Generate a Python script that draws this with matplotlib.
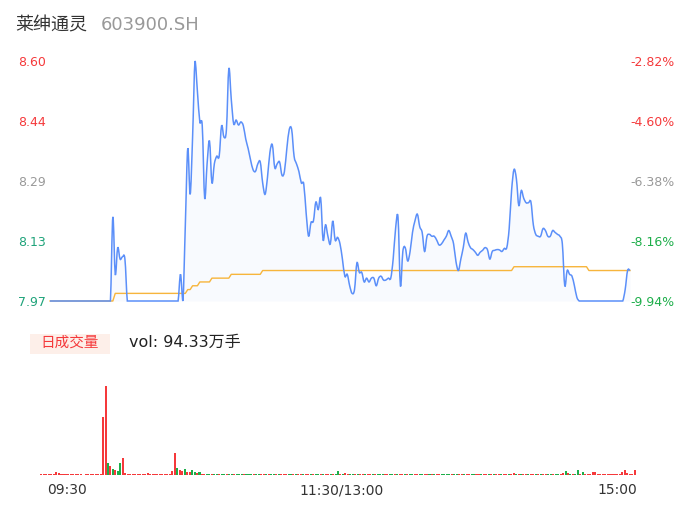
import numpy as np
import matplotlib
matplotlib.use('Agg')
import matplotlib.pyplot as plt
from matplotlib.patches import Rectangle, PathPatch
from matplotlib.path import Path

plt.rcParams['font.family'] = ['DejaVu Sans', 'Noto Sans CJK SC']

# -----------------------------
# 数据
# -----------------------------
stock_name = '莱绅通灵'
stock_code = '603900.SH'
vol_text = 'vol: 94.33万手'
time_labels = ['09:30', '11:30/13:00', '15:00']

price_labels = ['7.97', '8.13', '8.29', '8.44', '8.60']
pct_labels = ['-9.94%', '-8.16%', '-6.38%', '-4.60%', '-2.82%']

# 分时价格 (241 minutes)
price = ([7.97] * 26
         + [8.19, 8.04, 8.11, 8.08, 8.086, 8.08, 7.97]
         + [7.97] * 21
         + [8.04, 7.97, 8.17, 8.37, 8.25, 8.40, 8.60, 8.52, 8.44, 8.43,
            8.24, 8.33, 8.39, 8.28, 8.33, 8.35, 8.35, 8.43, 8.40, 8.42,
            8.58, 8.50, 8.435, 8.445, 8.432, 8.44, 8.43, 8.395, 8.37, 8.34,
            8.315, 8.31, 8.33, 8.335, 8.28, 8.25, 8.295, 8.36, 8.38, 8.32,
            8.33, 8.335, 8.30, 8.31, 8.37, 8.42, 8.42, 8.35, 8.33, 8.31,
            8.28, 8.277, 8.20, 8.14, 8.176, 8.18, 8.23, 8.21, 8.24, 8.13,
            8.17, 8.14, 8.12, 8.18, 8.13, 8.137, 8.12, 8.08, 8.035, 8.04,
            8.01, 7.99, 8.00, 8.07, 8.045, 8.045, 8.02, 8.03, 8.02, 8.03,
            8.03, 8.01, 8.03, 8.035, 8.025, 8.025, 8.03, 8.03, 8.08, 8.16,
            8.19, 8.01, 8.10, 8.11, 8.075, 8.10, 8.15, 8.18, 8.198, 8.165,
            8.15, 8.10, 8.14, 8.145, 8.14, 8.14, 8.13, 8.117, 8.12, 8.13,
            8.14, 8.155, 8.14, 8.12, 8.073, 8.05, 8.08, 8.11, 8.148, 8.125,
            8.11, 8.105, 8.098, 8.09, 8.098, 8.103, 8.11, 8.105, 8.08, 8.10,
            8.103, 8.105, 8.104, 8.10, 8.108, 8.11, 8.16, 8.26, 8.315, 8.29,
            8.22, 8.26, 8.24, 8.228, 8.228, 8.23, 8.17, 8.145, 8.14, 8.14,
            8.16, 8.155, 8.14, 8.14, 8.155, 8.15, 8.145, 8.14, 8.12, 8.01,
            8.05, 8.04, 8.035, 8.01, 7.98]
         + [7.97] * 19
         + [8.00, 8.05, 8.05])

# 均价线
avg_price = ([7.97] * 27 + [7.99] * 30 + [8.00] * 2 + [8.01] * 3 + [8.02] * 5
             + [8.03] * 8 + [8.04] * 13 + [8.05] * 104 + [8.06] * 31 + [8.05] * 18)

# 成交量 (手)
volume = [1300, 1200, 1100, 1300, 1000, 1200, 5200, 2900, 2800, 2600,
          1500, 1400, 1600, 1300, 1400, 1200, 1000, 900, 1000, 1100,
          1200, 1300, 1500, 1400, 1800, 110000, 170000, 23000, 17000, 11500,
          9500, 7600, 23000, 32500, 3800, 1500, 1300, 1200, 1400, 1100,
          1200, 1300, 1500, 3800, 2000, 1300, 1200, 1100, 1000, 1200,
          1300, 1500, 1800, 7600, 42000, 13300, 9500, 7600, 11500, 5700,
          5700, 9500, 5700, 3800, 5700, 2800, 2600, 2200, 2400, 2000,
          2200, 1900, 2100, 1800, 2000, 1700, 1800, 1600, 1500, 1700,
          1400, 1500, 1300, 1600, 1400, 1500, 1300, 1200, 1400, 1500,
          1300, 1400, 1200, 1500, 1300, 1200, 1400, 1300, 1100, 1500,
          1200, 1300, 1400, 1200, 1300, 1500, 1400, 1200, 1300, 1100,
          1400, 1300, 1200, 1500, 1300, 1400, 1200, 1300, 1500, 1400,
          7600, 2200, 1800, 3800, 1500, 1300, 1400, 1200, 1500, 2800,
          1300, 1200, 1400, 1300, 1500, 1200, 1300, 1400, 1500, 1200,
          1300, 1400, 1300, 1500, 1400, 1600, 1300, 1200, 1400, 1500,
          1300, 1400, 1200, 1300, 1500, 1400, 1300, 1200, 1400, 1300,
          1200, 1400, 1300, 1500, 1200, 1300, 1400, 1200, 1300, 1400,
          1200, 1300, 1400, 1200, 1300, 1200, 1400, 1300, 1200, 1300,
          1400, 1200, 1300, 1400, 1200, 1300, 1400, 1300, 1200, 1300,
          1400, 3800, 1300, 1200, 1400, 1300, 1200, 1300, 2800, 1300,
          1200, 1400, 1300, 1200, 1300, 1400, 1200, 1300, 1400, 1500,
          1300, 3800, 7600, 3800, 1500, 1300, 2000, 9500, 2000, 5700,
          1400, 1300, 1500, 5700, 5700, 1400, 1300, 1200, 1300, 1400,
          1300, 1200, 1400, 1300, 1500, 5700, 9500, 3800, 1200, 1300,
          9500]

# 1 = 上涨(红), 0 = 下跌(绿)
up_flags = ('1111111111111111111111111'
            '1101010011'
            '111111111111111111'
            '110110110010'
            '11001001001001000100'
            '01001101001011100101'
            '10110100101101001011'
            '00101101101000110010'
            '11010011001101011000'
            '01001101100110110101'
            '10110110101101101011'
            '00100110101001011')

RED = '#F5393B'
GREEN = '#1DAE4A'
GREEN_L = '#1FA37A'
GRAY = '#999999'


def smooth_path(xs, ys, ymin, ymax):
    """ Catmull-Rom 曲线转成三次贝塞尔路径 (只影响绘制), 控制点限制在数据范围内 """
    pts = np.column_stack([xs, ys]).astype(float)
    verts = [pts[0]]
    codes = [Path.MOVETO]
    n = len(pts)
    for k in range(n - 1):
        p0 = pts[max(k - 1, 0)]
        p1 = pts[k]
        p2 = pts[k + 1]
        p3 = pts[min(k + 2, n - 1)]
        c1 = p1 + (p2 - p0) / 6.0
        c2 = p2 - (p3 - p1) / 6.0
        c1[1] = min(max(c1[1], ymin), ymax)
        c2[1] = min(max(c2[1], ymin), ymax)
        verts += [c1, c2, p2]
        codes += [Path.CURVE4] * 3
    return Path(verts, codes)


x = np.arange(len(price))
low, high = min(price), max(price)

fig = plt.figure(figsize=(6.86, 5.24), dpi=100)
W, H = 686, 524

# -----------------------------
# 分时图
# -----------------------------
ax = fig.add_axes([50 / W, 1 - 301 / H, 580 / W, 240 / H])
ax.fill_between(x, price, low, color='#5B8FF9', alpha=0.04, lw=0)
line = PathPatch(smooth_path(x, price, low, high), facecolor='none', edgecolor='#5B8FF9',
                 lw=1.1, clip_on=False, zorder=3)
ax.add_patch(line)
ax.plot(x, avg_price, color='#F7B53C', lw=1.0, clip_on=False, zorder=2)
ax.set_xlim(0, len(price) - 1)
ax.set_ylim(low, high)
for s in ax.spines.values():
    s.set_visible(False)
ax.set_xticks([])

yticks = np.linspace(low, high, 5)
label_colors = [GREEN_L, GREEN_L, GRAY, RED, RED]
ax.set_yticks(yticks)
ax.set_yticklabels(price_labels, fontsize=9)
ax.tick_params(axis='y', length=0, pad=3)
for lbl, c in zip(ax.get_yticklabels(), label_colors):
    lbl.set_color(c)

ax2 = ax.twinx()
ax2.set_ylim(low, high)
for s in ax2.spines.values():
    s.set_visible(False)
ax2.set_yticks(yticks)
ax2.set_yticklabels(pct_labels, fontsize=9)
ax2.tick_params(axis='y', length=0, pad=0)
pct_colors = [GREEN, GREEN, GRAY, RED, RED]
for lbl, c in zip(ax2.get_yticklabels(), pct_colors):
    lbl.set_color(c)

# -----------------------------
# 成交量
# -----------------------------
axv = fig.add_axes([40 / W, 1 - 475 / H, 596 / W, 89 / H])
bar_colors = [RED if f == '1' else GREEN for f in up_flags]
axv.bar(np.arange(len(volume)), volume, width=0.82, color=bar_colors, lw=0)
axv.set_xlim(-0.5, len(volume) - 0.5)
axv.set_ylim(0, max(volume))
axv.axis('off')

# -----------------------------
# 文字
# -----------------------------
fig.text(15 / W, 1 - 25 / H, stock_name, fontsize=13, color='#333333', va='center',
         family=['Noto Sans CJK SC'])
fig.text(101 / W, 1 - 25 / H, stock_code, fontsize=13, color=GRAY, va='center')

fig.patches.append(Rectangle((30 / W, 1 - 354 / H), 80 / W, 20 / H, transform=fig.transFigure,
                             facecolor='#FDEFE9', edgecolor='none'))
fig.text(70 / W, 1 - 343 / H, '日成交量', fontsize=10.5, color=RED, ha='center', va='center',
         family=['Noto Sans CJK SC'])
fig.text(129 / W, 1 - 342 / H, vol_text, fontsize=11.5, color='#222222', va='center')

fig.text(47 / W, 1 - 490 / H, time_labels[0], fontsize=10, color='#333333', va='center', ha='left')
fig.text(342 / W, 1 - 490 / H, time_labels[1], fontsize=10, color='#333333', va='center', ha='center')
fig.text(637 / W, 1 - 490 / H, time_labels[2], fontsize=10, color='#333333', va='center', ha='right')

fig.savefig('out.png', dpi=100)
